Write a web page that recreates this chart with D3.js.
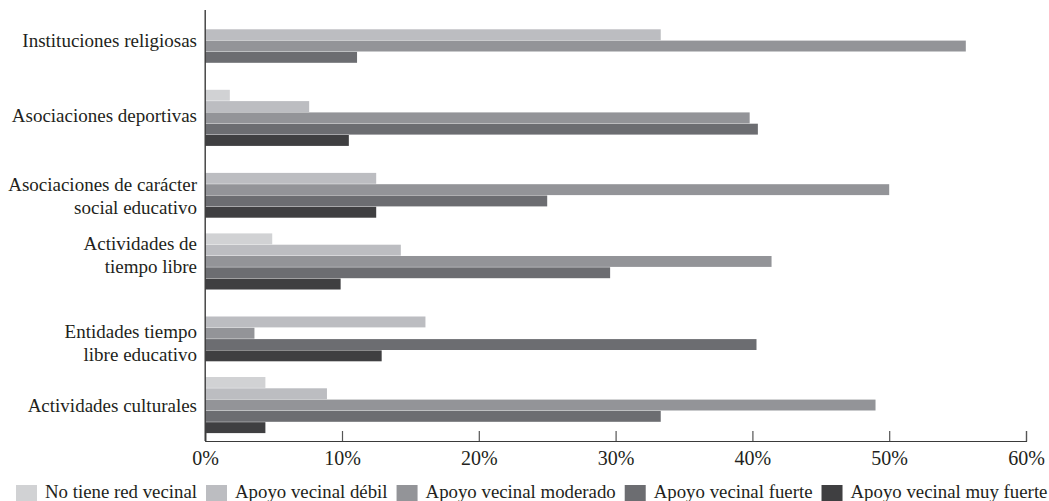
<!DOCTYPE html>
<html>
<head>
<meta charset="utf-8">
<script src="https://cdn.jsdelivr.net/npm/d3@7"></script>
<style>
  html, body { margin: 0; padding: 0; background: #fff; }
  svg { display: block; }
  text { font-family: "Liberation Serif", "DejaVu Serif", serif; fill: #231f20; }
</style>
</head>
<body>
<svg id="chart" width="1049" height="501"></svg>
<script>
// ---- Data ----
const categories = [
  "Instituciones religiosas",
  "Asociaciones deportivas",
  "Asociaciones de carácter social educativo",
  "Actividades de tiempo libre",
  "Entidades tiempo libre educativo",
  "Actividades culturales"
];
const categoryLines = [
  ["Instituciones religiosas"],
  ["Asociaciones deportivas"],
  ["Asociaciones de carácter", "social educativo"],
  ["Actividades de", "tiempo libre"],
  ["Entidades tiempo", "libre educativo"],
  ["Actividades culturales"]
];
const seriesNames = [
  "No tiene red vecinal",
  "Apoyo vecinal débil",
  "Apoyo vecinal moderado",
  "Apoyo vecinal fuerte",
  "Apoyo vecinal muy fuerte"
];
const noTieneRed      = [0,    1.8,  0,    4.9,  0,    4.4];
const apoyoDebil      = [33.3, 7.6,  12.5, 14.3, 16.1, 8.9];
const apoyoModerado   = [55.6, 39.8, 50.0, 41.4, 3.6,  49.0];
const apoyoFuerte     = [11.1, 40.4, 25.0, 29.6, 40.3, 33.3];
const apoyoMuyFuerte  = [0,    10.5, 12.5, 9.9,  12.9, 4.4];
const xTicks = [0, 10, 20, 30, 40, 50, 60];

const seriesValues = [noTieneRed, apoyoDebil, apoyoModerado, apoyoFuerte, apoyoMuyFuerte];
const colors = ["#d1d2d4", "#bcbdc1", "#939498", "#6c6d71", "#3f3f41"];

// ---- Layout ----
const svg = d3.select("#chart");
svg.append("rect").attr("width", 1049).attr("height", 501).attr("fill", "#fff");

const x = d3.scaleLinear().domain([0, 60]).range([205.2, 1026]);
const y0 = d3.scaleBand().domain(categories).range([18, 433.5]).paddingInner(0.213).paddingOuter(0);
const y1 = d3.scaleBand().domain(seriesNames).range([0, y0.bandwidth()]).padding(0);

// label baseline offsets (first line) relative to band centre, and line spacing
const labelDy = [0.8, 4.4, 1.4, -11.3, 5.0, 6.4];
const lineGap = 23;

// bars
const rows = [];
categories.forEach((c, i) => {
  seriesNames.forEach((s, j) => {
    rows.push({ cat: c, ser: s, v: seriesValues[j][i], color: colors[j] });
  });
});
svg.append("g").selectAll("rect")
  .data(rows.filter(d => d.v > 0))
  .join("rect")
  .attr("x", x(0))
  .attr("y", d => y0(d.cat) + y1(d.ser))
  .attr("width", d => x(d.v) - x(0))
  .attr("height", y1.bandwidth() - 0.4)
  .attr("fill", d => d.color);

// x axis (ticks pointing up)
const axisY = 441;
const xAxis = d3.axisBottom(x).tickValues(xTicks).tickSize(-10).tickPadding(0).tickFormat(d => d + "%");
const gx = svg.append("g").attr("transform", `translate(0,${axisY})`).call(xAxis);
gx.select(".domain").attr("stroke", "#3a3a3a").attr("stroke-width", 1.2);
gx.selectAll(".tick line").attr("stroke", "#555").attr("stroke-width", 1.2);
gx.selectAll(".tick text")
  .attr("y", 24)
  .attr("dy", 0)
  .style("font-family", '"Liberation Serif", serif')
  .style("font-size", "20px")
  .attr("fill", "#231f20");

// y axis line
svg.append("line")
  .attr("x1", x(0)).attr("x2", x(0))
  .attr("y1", 10).attr("y2", axisY)
  .attr("stroke", "#3a3a3a").attr("stroke-width", 1.4);

// category labels
const lab = svg.append("g");
categories.forEach((c, i) => {
  const cy = y0(c) + y0.bandwidth() / 2 + labelDy[i];
  categoryLines[i].forEach((line, k) => {
    lab.append("text")
      .attr("x", 197)
      .attr("y", cy + k * lineGap)
      .attr("text-anchor", "end")
      .style("font-size", "19px")
      .text(line);
  });
});

// legend (sequential layout)
const legend = svg.append("g");
const swW = 21, swH = 17, gapSwText = 8, gapItem = 9, legStart = 16, legEnd = 1048;
const baseSize = 18.5;
let tmp = legend.append("g");
let totalText = 0;
seriesNames.forEach(s => {
  const t = tmp.append("text").style("font-size", baseSize + "px").text(s);
  totalText += t.node().getComputedTextLength();
});
tmp.remove();
const avail = (legEnd - legStart) - seriesNames.length * (swW + gapSwText) - (seriesNames.length - 1) * gapItem;
const legSize = baseSize * avail / totalText;
let cx = legStart;
seriesNames.forEach((s, j) => {
  legend.append("rect")
    .attr("x", cx).attr("y", 485)
    .attr("width", swW).attr("height", swH)
    .attr("fill", colors[j]);
  cx += swW + gapSwText;
  const t = legend.append("text")
    .attr("x", cx).attr("y", 498)
    .style("font-size", legSize + "px")
    .text(s);
  cx += t.node().getComputedTextLength() + gapItem;
});
</script>
</body>
</html>
